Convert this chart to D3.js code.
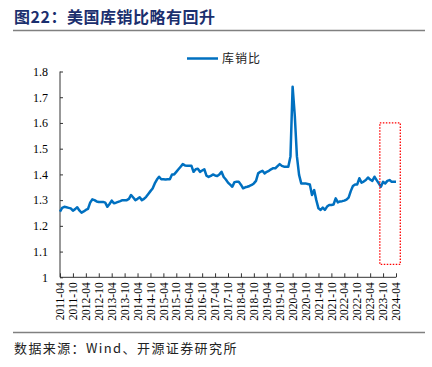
<!DOCTYPE html>
<html>
<head>
<meta charset="utf-8">
<script src="https://cdn.jsdelivr.net/npm/d3@7"></script>
<style>
  body { margin: 0; background: #fff; }
  svg { display: block; }
</style>
</head>
<body>
<svg id="chart"></svg>
<script>
const W = 432, H = 367;
const startYear = 2011, startMonth = 4;
// monthly ratio, 2011-04 .. 2024-04
const ratio = [
  1.255, 1.27, 1.274, 1.272, 1.27, 1.268, 1.259, 1.265, 1.272,
  1.26, 1.251, 1.256, 1.262, 1.266, 1.29, 1.303, 1.30, 1.295, 1.293, 1.293, 1.293,
  1.29, 1.274, 1.285, 1.298, 1.288, 1.29, 1.293, 1.296, 1.30, 1.30, 1.30, 1.305,
  1.32, 1.31, 1.30, 1.305, 1.311, 1.30, 1.305, 1.313, 1.324, 1.335, 1.345, 1.365,
  1.38, 1.391, 1.381, 1.381, 1.38, 1.381, 1.381, 1.40, 1.40, 1.41, 1.42, 1.43,
  1.44, 1.435, 1.434, 1.434, 1.434, 1.41, 1.42, 1.422, 1.41, 1.415, 1.42, 1.395,
  1.39, 1.394, 1.40, 1.396, 1.394, 1.40, 1.41, 1.39, 1.38, 1.368, 1.36, 1.352,
  1.37, 1.371, 1.371, 1.36, 1.346, 1.35, 1.352, 1.355, 1.359, 1.365, 1.375, 1.404,
  1.41, 1.414, 1.404, 1.41, 1.414, 1.42, 1.424, 1.424, 1.432, 1.44, 1.433, 1.43,
  1.43, 1.43, 1.47, 1.741, 1.63, 1.47, 1.398, 1.365, 1.365, 1.365, 1.363, 1.361,
  1.32, 1.339, 1.30, 1.268, 1.262, 1.271, 1.262, 1.275, 1.281, 1.281, 1.283, 1.307,
  1.291, 1.295, 1.296, 1.298, 1.302, 1.31, 1.335, 1.355, 1.361, 1.361, 1.385, 1.368,
  1.372, 1.378, 1.388, 1.38, 1.375, 1.391, 1.378, 1.365, 1.352, 1.371, 1.365, 1.375,
  1.378, 1.371, 1.371, 1.371
];
const months = ratio.map((_, i) => {
  const m = startMonth - 1 + i;
  const y = startYear + Math.floor(m / 12);
  return `${y}-${String(m % 12 + 1).padStart(2, '0')}`;
});
const yTicks = [1, 1.1, 1.2, 1.3, 1.4, 1.5, 1.6, 1.7, 1.8];
// highlighted window (dotted box)
const boxMonths = ['2023-09', '2024-04'];
const boxRange = [1.05, 1.6];

const serif = "'Liberation Serif', 'Times New Roman', serif";
const cjk = "'Noto Sans CJK SC', sans-serif";

const svg = d3.select('#chart').attr('width', W).attr('height', H);

const x = d3.scaleLinear().domain([0, months.length - 1]).range([60, 396]);
const y = d3.scaleLinear().domain([1, 1.8]).range([277.3, 71.5]);

// title + rules
svg.append('text')
    .attr('x', 14).attr('y', 23)
    .attr('font-family', cjk).attr('font-weight', 'bold')
    .attr('font-size', 16).attr('letter-spacing', 0.5).attr('fill', '#1b2f6e')
    .text('图22：美国库销比略有回升');
svg.append('line').attr('x1', 13).attr('x2', 425).attr('y1', 30.5).attr('y2', 30.5)
    .attr('stroke', '#808080').attr('stroke-width', 1.5);
svg.append('line').attr('x1', 13).attr('x2', 425).attr('y1', 332.5).attr('y2', 332.5)
    .attr('stroke', '#808080').attr('stroke-width', 1.5);
svg.append('text')
    .attr('x', 14).attr('y', 353)
    .attr('font-family', cjk).attr('font-size', 13).attr('letter-spacing', 1.4)
    .attr('fill', '#222')
    .text('数据来源：Wind、开源证券研究所');

// legend
svg.append('line').attr('x1', 187).attr('x2', 218).attr('y1', 58.5).attr('y2', 58.5)
    .attr('stroke', '#0070c0').attr('stroke-width', 2.5);
svg.append('text').attr('x', 222).attr('y', 63)
    .attr('font-family', cjk).attr('font-size', 12).attr('letter-spacing', 1)
    .attr('fill', '#222')
    .text('库销比');

// axes
const yAxis = d3.axisLeft(y).tickValues(yTicks).tickSize(-3).tickPadding(12)
    .tickFormat(d => d3.format('')(+d.toFixed(1)));
const gy = svg.append('g').attr('transform', 'translate(60,0)').call(yAxis);
gy.selectAll('text').attr('font-family', serif).attr('font-size', 12).attr('fill', '#000');
gy.select('.domain').attr('d', `M0,${y(1.8)}V${y(1)}`);

const tickIdx = months.map((_, i) => i).filter(i => i % 6 === 0);
const xAxis = d3.axisBottom(x).tickValues(tickIdx).tickSize(-4).tickPadding(6)
    .tickFormat(i => months[i]);
const gx = svg.append('g').attr('transform', `translate(0,${y(1)})`).call(xAxis);
gx.select('.domain').attr('d', `M${x(0)},0H${x(months.length - 1)}`);
gx.selectAll('text')
    .attr('font-family', serif).attr('font-size', 11.5).attr('fill', '#000')
    .attr('text-anchor', 'end').attr('dy', '0.32em')
    .attr('transform', 'rotate(-90)')
    .attr('x', -5).attr('y', 0);
svg.selectAll('.domain, .tick line').attr('stroke', '#333');

// series
svg.append('path')
    .datum(ratio)
    .attr('fill', 'none')
    .attr('stroke', '#0070c0')
    .attr('stroke-width', 2.5)
    .attr('stroke-linejoin', 'round')
    .attr('d', d3.line().x((_, i) => x(i)).y(d => y(d)));

// dotted box
const b0 = months.indexOf(boxMonths[0]) - 0.5;
const b1 = months.indexOf(boxMonths[1]) + 2;
svg.append('rect')
    .attr('x', x(b0)).attr('width', x(b1) - x(b0))
    .attr('y', y(boxRange[1])).attr('height', y(boxRange[0]) - y(boxRange[1]))
    .attr('fill', 'none').attr('stroke', '#ff0000')
    .attr('stroke-width', 1.3).attr('stroke-dasharray', '1.5,1.5');
</script>
</body>
</html>
